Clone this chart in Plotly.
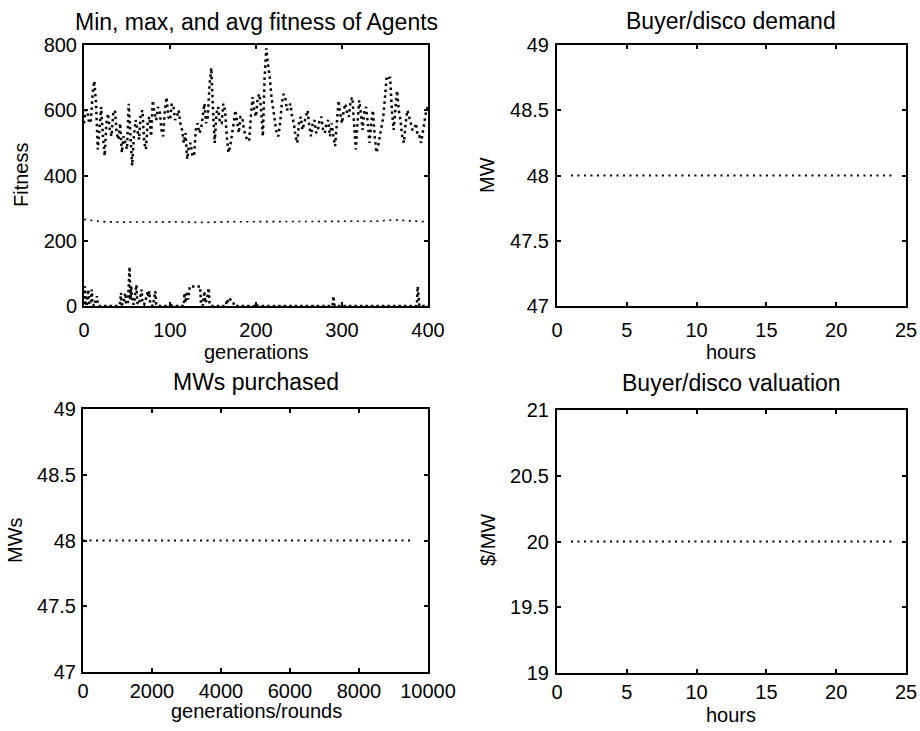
import plotly.graph_objects as go

# ---------------- data ----------------
# Top-left: fitness of agents over generations
max_gen = list(range(0, 401, 2))
max_fit = [560, 600, 600, 560, 570, 650, 690, 620, 480, 540,
           610, 520, 460, 560, 590, 540, 520, 590, 600, 530,
           510, 560, 470, 520, 500, 480, 620, 510, 430, 520,
           570, 540, 510, 590, 600, 500, 480, 560, 580, 520,
           630, 590, 570, 610, 600, 540, 520, 600, 640, 580,
           570, 620, 610, 570, 580, 600, 560, 540, 500, 530,
           450, 490, 500, 460, 460, 540, 560, 530, 540, 580,
           620, 560, 580, 680, 730, 600, 500, 590, 610, 560,
           560, 620, 600, 520, 470, 490, 520, 560, 600, 560,
           530, 580, 580, 540, 520, 510, 505, 580, 640, 600,
           580, 640, 650, 600, 520, 700, 790, 740, 700, 640,
           600, 560, 530, 520, 560, 620, 650, 640, 600, 610,
           620, 580, 560, 520, 500, 560, 580, 540, 560, 580,
           600, 550, 520, 560, 570, 530, 540, 570, 580, 540,
           530, 560, 570, 520, 560, 520, 490, 560, 630, 590,
           560, 600, 620, 590, 580, 630, 640, 560, 480, 560,
           630, 590, 540, 600, 610, 560, 500, 560, 600, 520,
           470, 490, 520, 560, 580, 640, 705, 700, 700, 600,
           540, 600, 660, 600, 570, 520, 500, 560, 600, 580,
           560, 540, 540, 560, 520, 520, 500, 530, 570, 600,
           610]

avg_gen = [0, 20, 40, 60, 80, 100, 120, 140, 160, 180, 200,
           220, 240, 260, 280, 300, 320, 340, 360, 380, 400]
avg_fit = [265, 259, 257, 258, 259, 258, 257, 256, 258, 258, 258,
           258, 259, 258, 258, 258, 258, 260, 264, 262, 258]

min_gen = [0, 1, 2, 3, 5, 6, 8, 9, 10, 12, 15, 16, 18, 40, 42, 43, 44, 46,
           48, 49, 51, 53, 54, 55, 56, 58, 61, 62, 64, 67, 68, 70, 73, 74,
           75, 76, 77, 80, 83, 84, 86, 100, 101, 102, 116, 117, 118, 120,
           121, 123, 135, 136, 138, 140, 141, 143, 145, 146, 148, 165, 166,
           168, 170, 173, 175, 200, 201, 202, 289, 290, 291, 292, 387, 388,
           389, 390, 400]
min_fit = [5, 60, 10, 0, 50, 5, 10, 50, 5, 0, 30, 5, 0, 0, 10, 40, 5, 5,
           40, 10, 5, 120, 20, 60, 10, 5, 65, 10, 5, 50, 10, 5, 30, 45,
           30, 45, 5, 0, 45, 5, 0, 0, 10, 0, 0, 40, 10, 45,
           20, 60, 60, 10, 0, 45, 10, 20, 55, 10, 0, 0, 20,
           10, 20, 15, 0, 0, 5, 0, 0, 30, 5, 0, 0, 60,
           30, 0, 0]

# Top-right: demand per hour
hours = [1, 2, 3, 4, 5, 6, 7, 8, 9, 10, 11, 12,
         13, 14, 15, 16, 17, 18, 19, 20, 21, 22, 23, 24]
demand_mw = [48, 48, 48, 48, 48, 48, 48, 48, 48, 48, 48, 48,
             48, 48, 48, 48, 48, 48, 48, 48, 48, 48, 48, 48]

# Bottom-left: MWs purchased over generations/rounds (constant)
rounds = [1, 9600]
purchased_mw = [48, 48]

# Bottom-right: valuation per hour
valuation = [20, 20, 20, 20, 20, 20, 20, 20, 20, 20, 20, 20,
             20, 20, 20, 20, 20, 20, 20, 20, 20, 20, 20, 20]

# ---------------- figure ----------------
W, H = 920, 731
FONT = "Liberation Sans, Arial, sans-serif"
DOT = "2px,4.5px"

fig = go.Figure()

def line(x, y, xa, ya, width=2, dash=DOT):
    fig.add_trace(go.Scatter(x=x, y=y, xaxis=xa, yaxis=ya, mode="lines",
                             line=dict(color="black", width=width, dash=dash),
                             showlegend=False, hoverinfo="skip"))

line(max_gen, max_fit, "x", "y", 2.5, "2.5px,3.5px")
line(avg_gen, avg_fit, "x", "y", 1.6)
line(min_gen, min_fit, "x", "y", 2.5, "2.5px,3px")
line(hours, demand_mw, "x2", "y2")
line(rounds, purchased_mw, "x3", "y3")
line(hours, valuation, "x4", "y4")

# plot boxes in pixels: (left, right, top, bottom)
boxes = {
    1: (84, 428, 45, 306),
    2: (557, 906, 45, 306),
    3: (83, 428, 409, 672),
    4: (557, 906, 410, 673),
}
xstandoff = {1: 5, 2: 5, 3: 0, 4: 0}
ystandoff = {1: 1, 2: 2, 3: 1, 4: 2}

def px_dom_x(l, r):
    return [l / W, r / W]

def px_dom_y(t, b):
    return [1 - b / H, 1 - t / H]

axis_common = dict(showgrid=False, zeroline=False, showline=True,
                   linecolor="black", linewidth=2, mirror="allticks",
                   ticks="inside", ticklen=4, tickwidth=1.5, tickcolor="black",
                   automargin=False,
                   tickfont=dict(family=FONT, size=20, color="black"))

xcfg = {
    1: dict(range=[0, 400], tickvals=[0, 100, 200, 300, 400],
            ticktext=["0", "100", "200", "300", "400"]),
    2: dict(range=[0, 25], tickvals=[0, 5, 10, 15, 20, 25],
            ticktext=["0", "5", "10", "15", "20", "25"]),
    3: dict(range=[0, 10000], tickvals=[0, 2000, 4000, 6000, 8000, 10000],
            ticktext=["0", "2000", "4000", "6000", "8000", "10000"]),
    4: dict(range=[0, 25], tickvals=[0, 5, 10, 15, 20, 25],
            ticktext=["0", "5", "10", "15", "20", "25"]),
}
ycfg = {
    1: dict(range=[0, 800], tickvals=[0, 200, 400, 600, 800],
            ticktext=["0", "200", "400", "600", "800"]),
    2: dict(range=[47, 49], tickvals=[47, 47.5, 48, 48.5, 49],
            ticktext=["47", "47.5", "48", "48.5", "49"]),
    3: dict(range=[47, 49], tickvals=[47, 47.5, 48, 48.5, 49],
            ticktext=["47", "47.5", "48", "48.5", "49"]),
    4: dict(range=[19, 21], tickvals=[19, 19.5, 20, 20.5, 21],
            ticktext=["19", "19.5", "20", "20.5", "21"]),
}

layout = dict(width=W, height=H, margin=dict(l=0, r=0, t=0, b=0, autoexpand=False),
              template="none",
              paper_bgcolor="white", plot_bgcolor="white",
              font=dict(family=FONT, color="black"))

for i in range(1, 5):
    l, r, t, b = boxes[i]
    sx = "" if i == 1 else str(i)
    xa = dict(axis_common, domain=px_dom_x(l, r), anchor="y" + sx,
              ticklabelstandoff=xstandoff[i], **xcfg[i])
    ya = dict(axis_common, domain=px_dom_y(t, b), anchor="x" + sx,
              ticklabelstandoff=ystandoff[i], **ycfg[i])
    layout["xaxis" + sx] = xa
    layout["yaxis" + sx] = ya

fig.update_layout(**layout)

def text(s, x, y, size, angle=0):
    fig.add_annotation(text=s, x=x / W, y=1 - y / H, xref="paper", yref="paper",
                       showarrow=False, xanchor="center", yanchor="middle",
                       textangle=angle,
                       font=dict(family=FONT, size=size, color="black"))

# titles
text("Min, max, and avg fitness of Agents", 256, 22, 23)
text("Buyer/disco demand", 731, 21, 23)
text("MWs purchased", 256, 382, 23)
text("Buyer/disco valuation", 731, 383, 23)
# x-axis titles
text("generations", 256, 352, 20)
text("hours", 731, 352, 20)
text("generations/rounds", 256, 711, 20)
text("hours", 731, 715, 20)
# y-axis titles
text("Fitness", 21, 175, 20, -90)
text("MW", 487, 175, 20, -90)
text("MWs", 15, 540, 20, -90)
text("$/MW", 488, 540, 20, -90)

fig.write_html("out.html")
